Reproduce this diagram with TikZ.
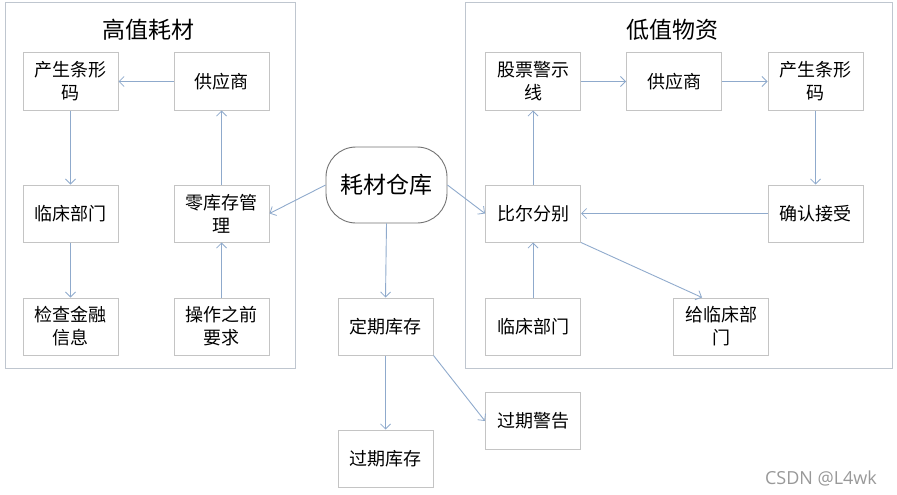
\documentclass[tikz,border=0pt]{standalone}
\usepackage{fontspec}
\setmainfont{Noto Sans CJK SC}
\newfontfamily\wmfont{Open Sans}
\usetikzlibrary{arrows.meta}
\definecolor{arr}{HTML}{8FAACC}
\definecolor{bx}{HTML}{C4C4C4}
\definecolor{grp}{HTML}{BFC6CF}
\begin{document}
\begin{tikzpicture}[x=1pt,y=-1pt,
  box/.style={draw=bx,line width=1pt,fill=white,minimum width=95pt,minimum height=57pt,inner sep=1pt,align=center,font=\fontsize{18}{23}\selectfont},
  grpbox/.style={draw=grp,line width=1pt},
  ttl/.style={font=\fontsize{23}{26}\selectfont},
  conn/.style={draw=arr,line width=0.9pt,-{Straight Barb[length=5pt,width=10pt,line width=0.8pt]}}]
\useasboundingbox (0,0) rectangle (897,495);
% groups
\draw[grpbox] (5,3) rectangle (295,368);
\draw[grpbox] (465,3) rectangle (892,368);
\node[ttl] (t1) at (148,30) {高值耗材};
\node[ttl] (t2) at (672,30) {低值物资};
% left group
\node[box] (lcode) at (70.5,81.5) {产生条形\\码};
\node[box] (lsup) at (221.5,81.5) {供应商};
\node[box] (lclin) at (70.5,213.5) {临床部门};
\node[box] (lzero) at (221.5,213.5) {零库存管\\理};
\node[box] (lchk) at (70.5,326.5) {检查金融\\信息};
\node[box] (lop) at (221.5,326.5) {操作之前\\要求};
% right group
\node[box] (rstock) at (533,81.5) {股票警示\\线};
\node[box] (rsup) at (674,81.5) {供应商};
\node[box] (rcode) at (815.5,81.5) {产生条形\\码};
\node[box] (rbill) at (533,213.5) {比尔分别};
\node[box] (rconf) at (815.5,213.5) {确认接受};
\node[box] (rclin) at (533,326.5) {临床部门};
\node[box] (rgive) at (721,326.5) {给临床部\\门};
% center
\node[draw=black!55,line width=0.9pt,rounded corners=30pt,minimum width=121pt,minimum height=76pt,font=\fontsize{23}{26}\selectfont,fill=white] (wh) at (386.5,185) {耗材仓库};
\node[box] (dq) at (385.5,326.5) {定期库存};
\node[box] (gw) at (533,421) {过期警告};
\node[box] (gk) at (385.5,458.5) {过期库存};
% connectors left
\draw[conn] (lsup) -- (lcode);
\draw[conn] (lcode) -- (lclin);
\draw[conn] (lclin) -- (lchk);
\draw[conn] (lzero) -- (lsup);
\draw[conn] (lop) -- (lzero);
% center
\draw[conn] (wh.west) -- (lzero.east);
\draw[conn] (wh.east) -- (rbill.west);
\draw[conn] (wh.south) -- (dq.north);
\draw[conn] (dq) -- (gk);
\draw[conn] (dq.south east) -- (gw.west);
% right
\draw[conn] (rstock) -- (rsup);
\draw[conn] (rsup) -- (rcode);
\draw[conn] (rcode) -- (rconf);
\draw[conn] (rconf) -- (rbill);
\draw[conn] (rbill) -- (rstock);
\draw[conn] (rclin) -- (rbill);
\draw[conn] (rbill.south east) -- ([xshift=-19pt]rgive.north);
% watermark
\node[font=\wmfont\fontsize{18}{20}\selectfont,text=black!40] (wm) at (821,478) {CSDN @L4wk};
\end{tikzpicture}
\end{document}
